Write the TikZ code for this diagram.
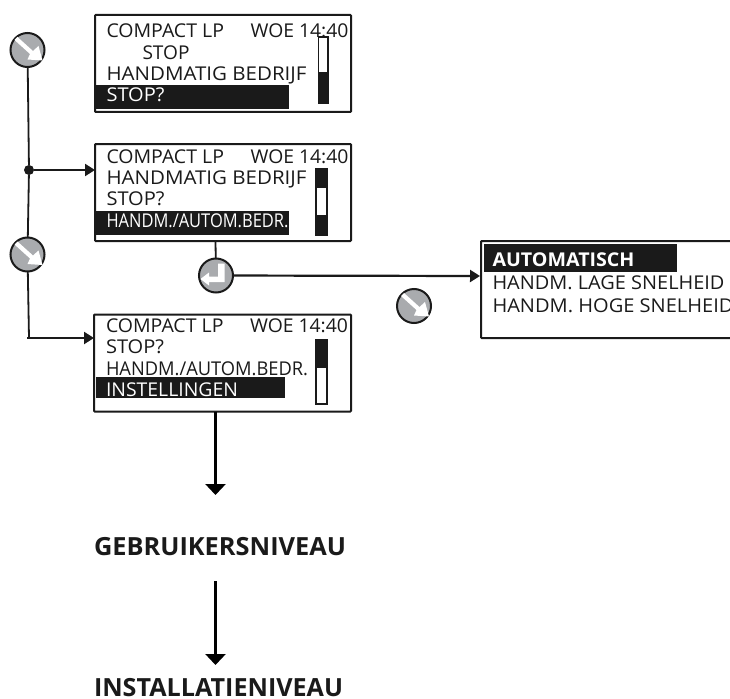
\documentclass[tikz,border=0pt]{standalone}
\usepackage{fontspec}
\usepackage{graphicx}
\setmainfont{Open Sans}
\usetikzlibrary{arrows.meta,calc}
\definecolor{ink}{HTML}{1A1A1A}
\definecolor{btn}{HTML}{A9ABAE}
\newcommand{\fw}[2]{\resizebox{#1pt}{\height}{#2}}
\tikzset{
  x=1pt,y=-1pt,
  lcd/.style={draw=ink,line width=2pt,rounded corners=0.8pt,minimum width=#1,minimum height=97pt,inner sep=0,outer sep=0,anchor=north west},
  txt/.style={anchor=base west,inner sep=0,outer sep=0,font=\fontsize{19}{19}\selectfont,text=ink},
  inv/.style={txt,text=white},
  hl/.style={fill=ink,draw=none},
  bar/.style={draw=ink,line width=1.6pt,fill=white},
  btnc/.style={circle,draw=ink,line width=2pt,fill=btn,minimum size=34pt,inner sep=0,outer sep=0},
  conn/.style={draw=ink,line width=1.8pt},
  flow/.style={draw=ink,line width=2.2pt,-{Triangle[length=10pt,width=12pt]}},
  down/.style={draw=black,line width=2.7pt,-{Triangle[length=11pt,width=20pt]}},
  head/.style={anchor=base west,inner sep=0,outer sep=0,font=\fontsize{25}{25}\selectfont\bfseries,text=ink},
  junc/.style={circle,fill=ink,minimum size=10pt,inner sep=0,outer sep=0}
}
\newcommand{\downkey}[1]{%
  \fill[white] ($(#1)+(-10,-13)$) -- ($(#1)+(5.5,1)$) -- ($(#1)+(11,-4)$) -- ($(#1)+(15,10.5)$) -- ($(#1)+(0,9.5)$) -- ($(#1)+(2.5,4)$) -- ($(#1)+(-13,-10)$) -- cycle;}
\newcommand{\enterkey}[1]{%
  \fill[white] ($(#1)+(2,-12)$) -- ($(#1)+(8.5,-12)$) -- ($(#1)+(8.5,6.5)$) -- ($(#1)+(-7,6.5)$) -- ($(#1)+(-7,10)$) -- ($(#1)+(-15.5,3.5)$) -- ($(#1)+(-7,-3)$) -- ($(#1)+(-7,1)$) -- ($(#1)+(2,1)$) -- cycle;}
\begin{document}
\begin{tikzpicture}
\useasboundingbox (0,0) rectangle (730,698);
\fill[white] (0,0) rectangle (730,698);

% screens
\node[lcd=256pt] (s1) at (95,15) {};
\node[lcd=256pt] (s2) at (95,144) {};
\node[lcd=257pt] (s3) at (94,314.5) {};
\draw[draw=ink,line width=2pt,rounded corners=0.8pt] (740,241) -- (481,241) -- (481,338) -- (740,338);
\coordinate (s4w) at (480,276);

% highlight bars
\fill[hl] (96,85.5) rectangle (289,109);
\fill[hl] (96,211) rectangle (289,234.5);
\fill[hl] (95.5,377) rectangle (285,398);
\fill[hl] (484,244) rectangle (677,271.5);

% scroll bars
\draw[bar] (318.5,37) rectangle (328,103);
\fill[ink] (318.5,72) rectangle (328,103);
\draw[bar] (316,168.5) rectangle (327,235);
\fill[ink] (316,168.5) rectangle (327,188);
\fill[ink] (316,215) rectangle (327,235);
\draw[bar] (316,340) rectangle (327,404);
\fill[ink] (316,340) rectangle (327,368);

% screen 1
\node[txt] (a1) at (106.5,38) {\fw{117.5}{COMPACT LP}};
\node[txt] (a2) at (250.5,38) {\fw{98}{WOE 14:40}};
\node[txt] (a3) at (142.5,59.5) {\fw{47}{STOP}};
\node[txt] (a4) at (106.5,81) {\fw{200}{HANDMATIG BEDRIJF}};
\node[inv] (a5) at (106.5,102) {\fw{58}{STOP?}};
% screen 2
\node[txt] (b1) at (106.5,163) {\fw{117.5}{COMPACT LP}};
\node[txt] (b2) at (250.5,163) {\fw{98}{WOE 14:40}};
\node[txt] (b3) at (106.5,184.5) {\fw{200}{HANDMATIG BEDRIJF}};
\node[txt] (b4) at (106.5,205) {\fw{58}{STOP?}};
\node[inv] (b5) at (106.5,227) {\fw{182}{HANDM./AUTOM.BEDR.}};
% screen 3
\node[txt] (c1) at (106,332) {\fw{117.5}{COMPACT LP}};
\node[txt] (c2) at (250,332) {\fw{98}{WOE 14:40}};
\node[txt] (c3) at (106,353.5) {\fw{58}{STOP?}};
\node[txt] (c4) at (106,375) {\fw{202}{HANDM./AUTOM.BEDR.}};
\node[inv] (c5) at (106,396) {\fw{132}{INSTELLINGEN}};
% screen 4
\node[inv,font=\fontsize{19}{19}\selectfont\bfseries] (d1) at (492.5,266) {\fw{142}{AUTOMATISCH}};
\node[txt] (d2) at (492.5,289) {\fw{232}{HANDM. LAGE SNELHEID}};
\node[txt] (d3) at (492.5,312) {\fw{241}{HANDM. HOGE SNELHEID}};

% buttons
\node[btnc] (k1) at (27.5,50) {};
\node[btnc] (k2) at (27.5,254.5) {};
\node[btnc] (k3) at (216,275.5) {};
\node[btnc] (k4) at (414,306) {};
\downkey{k1}
\downkey{k2}
\downkey{k4}
\enterkey{k3}

% levels
\node[head] (g) at (94,555) {\fw{252}{GEBRUIKERSNIVEAU}};
\node[head] (i) at (94,696) {\fw{249}{INSTALLATIENIVEAU}};

% connectors
\node[junc] (j) at (29,170) {};
\coordinate (e3) at (29,338);
\coordinate (t1) at (215.5,495);
\coordinate (f2) at (215.5,581);
\coordinate (t2) at (215.5,665);
\draw[conn] (k1) -- (j);
\draw[conn] (j) -- (k2);
\draw[conn] (k2) -- (e3);
\draw[flow] (j) -- (j -| s2.west);
\draw[flow] (27,338) -- (e3 -| s3.west);
\draw[conn] (s2.south -| t1) -- (k3);
\draw[flow] (k3) -- (s4w);
\draw[down] (s3.south -| t1) -- (t1);
\draw[down] (f2) -- (t2);
\end{tikzpicture}
\end{document}
